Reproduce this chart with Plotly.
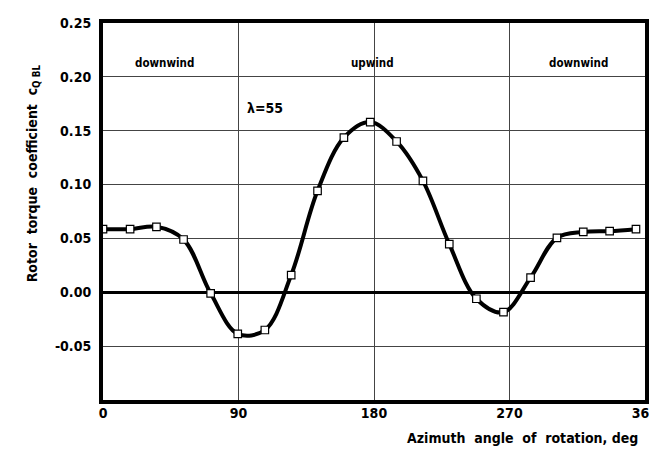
import plotly.graph_objects as go

# Data
azimuth_deg = [0, 18, 35.5, 53.5, 71.5, 89.5, 107.5, 125, 142.5, 160, 177.5,
               195, 212.5, 230, 248, 266, 284, 301.5, 319, 336.5, 354]
torque_coef = [0.0586, 0.0586, 0.0608, 0.049, -0.001, -0.0386, -0.035, 0.016,
               0.0942, 0.1435, 0.158, 0.140, 0.1034, 0.0447, -0.006, -0.0185,
               0.0136, 0.0506, 0.056, 0.0568, 0.0586]

x_ticks = [0, 90, 180, 270, 360]
x_ticklabels = ["0", "90", "180", "270", "360"]
y_ticks = [-0.05, 0.0, 0.05, 0.10, 0.15, 0.20, 0.25]
y_ticklabels = ["-0.05", "0.00", "0.05", "0.10", "0.15", "0.20", "0.25"]

region_labels = ["downwind", "upwind", "downwind"]
region_x = [41, 179, 316]

FONT = "DejaVu Sans Condensed, DejaVu Sans, sans-serif"


def f(size, weight="bold"):
    return dict(family=FONT, size=size, color="black", weight=weight)


fig = go.Figure()
fig.add_trace(go.Scatter(
    x=azimuth_deg, y=torque_coef,
    mode="lines+markers",
    line=dict(color="black", width=4, shape="spline", smoothing=1.0),
    marker=dict(symbol="square", size=7.5, color="white",
                line=dict(color="black", width=1.2)),
    showlegend=False,
))

for lab, xv in zip(region_labels, region_x):
    fig.add_annotation(x=xv, y=0.213, text=lab, showarrow=False,
                       font=f(11.5), xanchor="center", yanchor="middle")

fig.add_annotation(x=94, y=0.171, text="λ=55", showarrow=False,
                   font=f(14), xanchor="left", yanchor="middle")

fig.add_annotation(xref="paper", yref="paper", x=-0.13, y=0.60,
                   text="Rotor  torque  coefficient  c<sub>Q BL</sub>",
                   textangle=-90, showarrow=False,
                   font=f(14), xanchor="center", yanchor="middle")

fig.add_annotation(xref="paper", yref="paper", x=0.991, y=-0.10,
                   text="Azimuth  angle  of  rotation, deg", showarrow=False,
                   font=f(14), xanchor="right", yanchor="middle")

fig.update_xaxes(range=[0, 360], tickvals=x_ticks, ticktext=x_ticklabels,
                 showgrid=True, gridcolor="#444", gridwidth=1,
                 showline=True, linecolor="black", linewidth=4, mirror=True,
                 ticks="", zeroline=False, ticklabeloverflow="allow",
                 ticklabelstandoff=-3, tickfont=f(14))
fig.update_yaxes(range=[-0.1, 0.25], tickvals=y_ticks, ticktext=y_ticklabels,
                 showgrid=True, gridcolor="#444", gridwidth=1,
                 showline=True, linecolor="black", linewidth=4, mirror=True,
                 ticks="", zeroline=True, zerolinecolor="black", zerolinewidth=2.5,
                 ticklabelstandoff=5, tickfont=f(14))

fig.update_layout(width=657, height=449,
                  margin=dict(l=95, r=7, t=14, b=57),
                  plot_bgcolor="white", paper_bgcolor="white")

fig.write_html("out.html")
